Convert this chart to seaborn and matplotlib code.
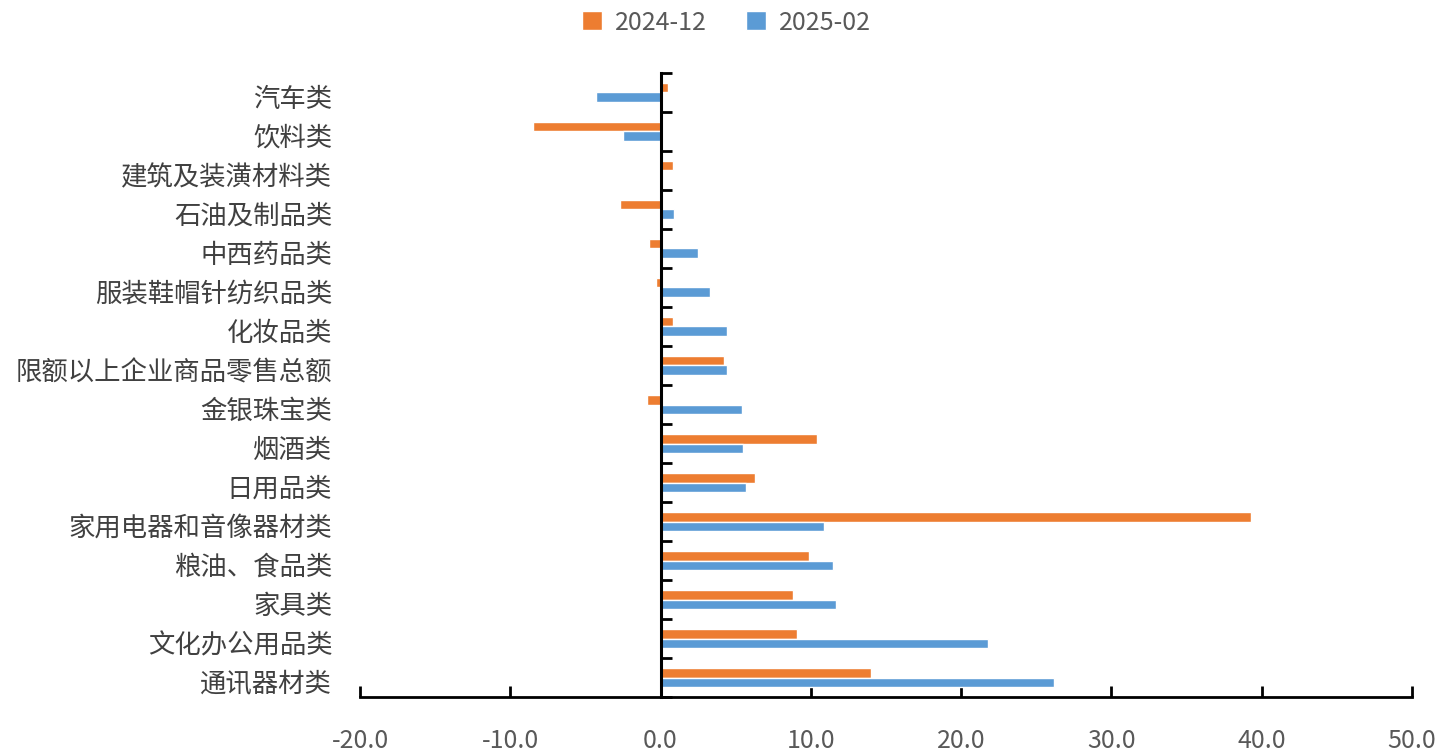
import pandas as pd
import seaborn as sns
import matplotlib.pyplot as plt
import matplotlib.transforms as mtransforms
from matplotlib.ticker import FormatStrFormatter

categories = ['汽车类', '饮料类', '建筑及装潢材料类', '石油及制品类', '中西药品类',
              '服装鞋帽针纺织品类', '化妆品类', '限额以上企业商品零售总额', '金银珠宝类',
              '烟酒类', '日用品类', '家用电器和音像器材类', '粮油、食品类', '家具类',
              '文化办公用品类', '通讯器材类']
dec_2024 = [0.5, -8.5, 0.8, -2.7, -0.8, -0.3, 0.8, 4.2, -0.9, 10.4, 6.3, 39.3, 9.9, 8.8, 9.1, 14.0]
feb_2025 = [-4.3, -2.5, 0.0, 0.9, 2.5, 3.3, 4.4, 4.4, 5.4, 5.5, 5.7, 10.9, 11.5, 11.7, 21.8, 26.2]
series = ['2024-12', '2025-02']
colors = ['#ED7D31', '#5B9BD5']

df = pd.DataFrame({
    'cat': categories * 2,
    'val': dec_2024 + feb_2025,
    'series': [series[0]] * len(categories) + [series[1]] * len(categories),
})

sns.set_style('white')
plt.rcParams['font.family'] = ['Noto Sans CJK SC', 'DejaVu Sans']

fig = plt.figure(figsize=(14.53, 7.51), dpi=100)
ax = fig.add_axes([0.2478, 0.0719, 0.7240, 0.8309])

sns.barplot(data=df, x='val', y='cat', hue='series', order=categories,
            hue_order=series, palette=colors, width=0.47, orient='h',
            saturation=1, ax=ax)

ax.set_xlim(-20, 50)
ax.set_ylim(15.5, -0.5)
ax.set_xticks(range(-20, 51, 10))
ax.xaxis.set_major_formatter(FormatStrFormatter('%.1f'))
ax.set_xlabel('')
ax.set_ylabel('')

for s in ['top', 'right', 'left']:
    ax.spines[s].set_visible(False)
ax.spines['bottom'].set_color('black')
ax.spines['bottom'].set_linewidth(2)

ax.tick_params(axis='x', bottom=True, direction='in', length=8, width=2, color='black',
               labelsize=18, labelcolor='#595959', pad=22)
ax.tick_params(axis='y', left=False, length=0, labelsize=19, labelcolor='#404040', pad=20)

# nudge category labels slightly down
offset = mtransforms.ScaledTranslation(0, -4 / 100, fig.dpi_scale_trans)
for lab in ax.get_yticklabels():
    lab.set_transform(lab.get_transform() + offset)

# zero axis with category separator ticks
zax = ax.secondary_yaxis(0, transform=ax.transData)
zax.set_yticks([i - 0.5 for i in range(len(categories) + 1)])
zax.set_yticklabels([])
zax.tick_params(direction='in', length=8, width=2, color='black')
zax.spines['left'].set_linewidth(2.2)
zax.spines['left'].set_color('black')
zax.set_zorder(3)

handles, labels = ax.get_legend_handles_labels()
ax.get_legend().remove()
leg = fig.legend(handles, labels, loc='center', bbox_to_anchor=(0.5, 0.97),
                 ncol=2, frameon=False, fontsize=18, handlelength=0.8,
                 handleheight=0.8, handletextpad=0.5, columnspacing=1.6)
for t in leg.get_texts():
    t.set_color('#595959')

fig.savefig('out.png', dpi=100)
